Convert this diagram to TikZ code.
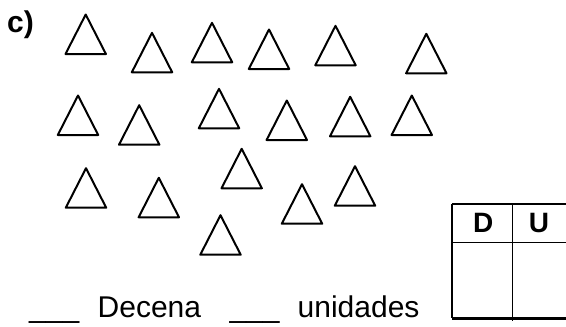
\documentclass[tikz,border=0pt]{standalone}
\usepackage{fontspec}
\setmainfont{Liberation Sans}

\tikzset{
  tri/.style={line width=2pt, line join=round},
  label/.style={inner sep=0pt, anchor=base west, font=\fontsize{30}{36}\selectfont},
  head/.style={inner sep=0pt, font=\fontsize{28}{32}\selectfont\bfseries},
  frame/.style={line width=2.2pt},
  rule/.style={line width=1.4pt}
}

\begin{document}
\begin{tikzpicture}[x=1pt, y=-1pt]
  \useasboundingbox (0,0) rectangle (566,327);

  \node[inner sep=0pt, anchor=base west, font=\fontsize{30}{34}\selectfont\bfseries] (part) at (7,32) {c)};

  % triangles, apex positions
  \foreach \x/\y in {85.7/14.5, 152/32.8, 212/22.8, 269/29.5, 335.5/25.8, 426.3/33.8,
                     78/95.5, 139.2/105.2, 219/88.8, 286.8/100.5, 350.2/96.8, 411.8/95.5,
                     86/168.2, 158.8/177.8, 241.7/148.8, 220.5/215.2, 302/184.2, 355/166.2}
    \draw[tri] (\x,\y) -- ++(-20.2,39.5) -- ++(40.4,0) -- cycle;

  % counting line
  \node[label] (blankd) at (29,317) {\_\_\_};
  \node[label] (decena) at (97.5,317) {Decena};
  \node[label] (blanku) at (229.3,317) {\_\_\_};
  \node[label] (unidades) at (297.5,317) {unidades};

  % place value table
  \coordinate (tl) at (452.3,204);
  \coordinate (br) at (567,318.3);
  \draw[frame] (tl) -- (tl -| br);
  \draw[frame] (tl) -- (tl |- br);
  \draw[line width=2.8pt] (tl |- br) -- (br);
  \draw[rule] (452.3,242.3) -- (567,242.3);
  \draw[rule] (512.3,204) -- (512.3,321);
  \node[head] (dec) at (483.3,223) {D};
  \node[head] (uni) at (539,223) {U};
\end{tikzpicture}
\end{document}
